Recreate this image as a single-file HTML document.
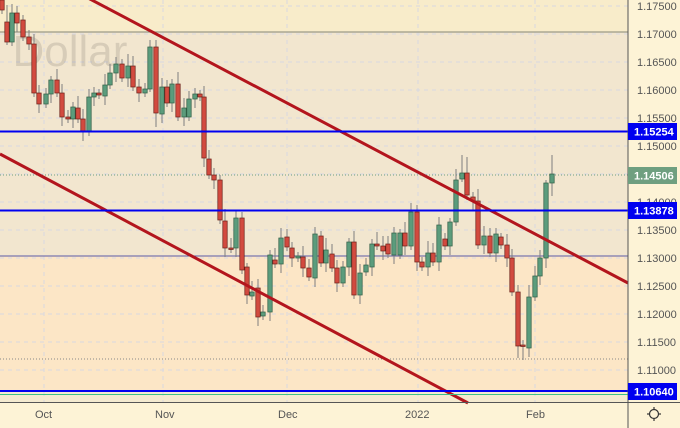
<!DOCTYPE html>
<html><head><meta charset="utf-8">
<style>
html,body{margin:0;padding:0;width:680px;height:428px;overflow:hidden;background:#fdf3d6;font-family:"Liberation Sans",sans-serif;}
svg{display:block}
</style></head><body>
<svg id="s" width="680" height="428" xmlns="http://www.w3.org/2000/svg" font-family="Liberation Sans, sans-serif">
<rect x="0" y="0" width="628" height="32" fill="#f8ecca"/>
<rect x="0" y="32" width="628" height="224" fill="#f2e6cf"/>
<rect x="0" y="256" width="628" height="136" fill="#fce6c6"/>
<rect x="0" y="392" width="628" height="10" fill="#f4ead0"/>
<rect x="628" y="0" width="52" height="428" fill="#fdf3d6"/>
<rect x="0" y="402" width="628" height="26" fill="#fdf3d6"/>
<g id="grid" stroke="#d8d8e0" stroke-width="1" stroke-dasharray="4,4"></g>
<text x="-12" y="66" font-size="44" fill="#000" fill-opacity="0.11">. Dollar</text>
<line x1="0" y1="32" x2="628" y2="32" stroke="#9a9a88" stroke-width="1.2"/>
<line x1="0" y1="256" x2="628" y2="256" stroke="#5a5aa8" stroke-width="1"/>
<line x1="0" y1="175" x2="628" y2="175" stroke="#6f9f80" stroke-width="1" stroke-dasharray="1,2"/>
<line x1="0" y1="359" x2="628" y2="359" stroke="#888" stroke-width="1" stroke-dasharray="1,2"/>
<g id="c"></g>
<line x1="88" y1="-2" x2="628" y2="283" stroke="#b3151d" stroke-width="3"/>
<line x1="0" y1="154" x2="468" y2="403" stroke="#b3151d" stroke-width="3"/>
<line x1="0" y1="131.5" x2="628" y2="131.5" stroke="#0000f0" stroke-width="2"/>
<line x1="0" y1="210.5" x2="628" y2="210.5" stroke="#0000f0" stroke-width="2"/>
<line x1="0" y1="391" x2="628" y2="391" stroke="#0000f0" stroke-width="2"/>
<line x1="0" y1="394.5" x2="628" y2="394.5" stroke="#3cc08a" stroke-width="1"/>
<line x1="628" y1="0" x2="628" y2="428" stroke="#555" stroke-width="1"/>
<line x1="0" y1="402.5" x2="680" y2="402.5" stroke="#555" stroke-width="1"/>
<g id="lab" font-size="11" fill="#555"></g>
<rect x="628" y="123" width="49" height="17" fill="#0000f0"/><text x="634" y="135.5" font-size="11" font-weight="bold" fill="#fff">1.15254</text>
<rect x="628" y="167" width="49" height="17" fill="#6f9f80"/><text x="634" y="179.5" font-size="11" font-weight="bold" fill="#fff">1.14506</text>
<rect x="628" y="202" width="49" height="17" fill="#0000f0"/><text x="634" y="214.5" font-size="11" font-weight="bold" fill="#fff">1.13878</text>
<rect x="628" y="383" width="49" height="17" fill="#0000f0"/><text x="634" y="395.5" font-size="11" font-weight="bold" fill="#fff">1.10640</text>
<g font-size="11" fill="#555">
<text x="35" y="418">Oct</text><text x="155" y="418">Nov</text><text x="278" y="418">Dec</text><text x="405" y="418">2022</text><text x="526" y="418">Feb</text>
</g>
<g stroke="#333" stroke-width="1.2" fill="none"><circle cx="654" cy="414" r="4.5"/>
<line x1="654" y1="407" x2="654" y2="409.5"/><line x1="654" y1="418.5" x2="654" y2="421"/><line x1="647" y1="414" x2="649.5" y2="414"/><line x1="658.5" y1="414" x2="661" y2="414"/></g>
</svg>
<script>
var NS="http://www.w3.org/2000/svg";
function el(p,t,a){var e=document.createElementNS(NS,t);for(var k in a)e.setAttribute(k,a[k]);p.appendChild(e);return e;}
var g=document.getElementById('grid'),lab=document.getElementById('lab');
for(var i=0;i<14;i++){var y=6+i*28;el(g,'line',{x1:0,y1:y,x2:628,y2:y});
var t=el(lab,'text',{x:637,y:y+4});t.textContent=(1.175-i*0.005).toFixed(5);}
[44,163,287,418,535].forEach(function(x){el(g,'line',{x1:x,y1:0,x2:x,y2:402});});
// x, open, close (pixel y)
var d=[[2,0,10],[7,22,42],[12,42,13],[17,13,23],[23,20,37],[29,37,44],[34,44,93],[39,93,104],[46,104,94],[51,94,80],[57,80,93],[62,93,117],[68,117,119],[73,119,107],[78,108,119],[83,119,132],[89,132,97],[94,97,93],[99,93,95],[105,96,85],[110,85,73],[116,73,64],[122,64,78],[128,78,66],[133,66,87],[139,87,93],[145,93,89],[150,89,47],[156,47,113],[162,114,87],[167,87,103],[172,103,84],[178,84,117],[184,117,108],[189,117,99],[195,99,94],[200,94,97],[204,97,158],[209,159,175],[214,175,180],[220,180,220],[225,221,248],[231,248,249],[236,248,218],[242,218,270],[247,267,295],[252,296,292],[258,288,317],[263,316,312],[270,312,255],[275,260,264],[281,264,238],[287,237,247],[292,248,258],[298,258,256],[303,257,268],[309,268,277],[315,278,234],[321,236,263],[326,263,250],[332,254,268],[337,268,283],[343,283,267],[349,267,242],[354,242,295],[360,295,273],[366,272,265],[372,267,244],[377,244,246],[383,246,251],[388,244,254],[394,255,233],[400,255,233],[405,233,246],[411,246,212],[417,212,262],[422,262,267],[428,267,253],[433,253,262],[439,262,225],[445,239,246],[450,246,222],[456,222,180],[462,179,173],[467,173,195],[473,197,201],[478,201,245],[484,245,236],[490,236,253],[496,253,234],[501,237,245],[507,245,258],[512,258,292],[518,292,346],[523,345,346],[529,348,297],[535,297,276],[540,276,258],[546,258,183],[552,183,174]];
var cg=document.getElementById('c');
var hl={462:[155,182],467:[157,200],552:[155,196],518:[285,358],523:[340,360],546:[180,268],150:[40,92],156:[40,127],29:[30,50],7:[5,45]};
d.forEach(function(c,i){var x=c[0],o=c[1],cl=c[2],up=cl<o;var top=Math.min(o,cl),bot=Math.max(o,cl);
var h=hl[x]||[top-4-(i*7%9),bot+4+(i*5%10)];
var col=up?'#5b9c7c':'#d24a3f',br=up?'#2e5e45':'#6b1e18';
el(cg,'line',{x1:x,y1:h[0],x2:x,y2:h[1],stroke:'#7f7f7f','stroke-width':1});
el(cg,'rect',{x:x-2.2,y:top,width:4.4,height:Math.max(1.5,bot-top),fill:col,stroke:br,'stroke-width':0.7});});
</script>
</body></html>
